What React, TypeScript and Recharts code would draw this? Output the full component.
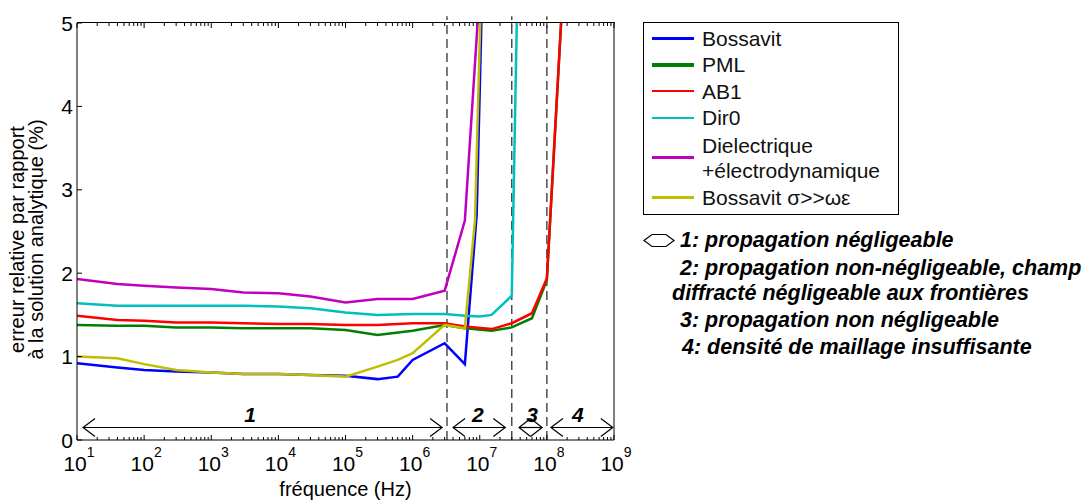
import React from "react";
import { LineChart, Line, XAxis, YAxis, ReferenceLine, ReferenceDot } from "recharts";

const FONT = '"Liberation Sans", Arial, Helvetica, sans-serif';

// axis ticks
const DECADES = [1e1, 1e2, 1e3, 1e4, 1e5, 1e6, 1e7, 1e8, 1e9];
const EXPONENTS = ["1", "2", "3", "4", "5", "6", "7", "8", "9"];
const MINOR_STEPS = [2, 3, 4, 5, 6, 7, 8, 9];
const X_TICKS = [
  ...DECADES,
  ...DECADES.slice(0, -1).flatMap((d) => MINOR_STEPS.map((m) => m * d)),
];
const Y_TICKS = [0, 1, 2, 3, 4, 5];

// series (frequency in Hz, relative error in %)
const bossavitFreq = [10, 40, 100, 300, 1e3, 3e3, 1e4, 3e4, 1e5, 3e5, 6e5, 1e6, 3e6, 6e6, 9e6, 1.5e7];
const bossavitErr = [0.92, 0.87, 0.84, 0.82, 0.81, 0.79, 0.79, 0.78, 0.77, 0.73, 0.76, 0.96, 1.16, 0.91, 2.7, 10];

const pmlFreq = [10, 40, 100, 300, 1e3, 3e3, 1e4, 3e4, 1e5, 3e5, 1e6, 3e6, 6e6, 1.5e7, 3e7, 6e7, 1e8, 2e8];
const pmlErr = [1.38, 1.37, 1.37, 1.35, 1.35, 1.34, 1.34, 1.34, 1.32, 1.26, 1.31, 1.38, 1.34, 1.31, 1.35, 1.46, 1.92, 6.3];

const ab1Freq = [10, 40, 100, 300, 1e3, 3e3, 1e4, 3e4, 1e5, 3e5, 1e6, 3e6, 6e6, 1.5e7, 3e7, 6e7, 1e8, 2e8];
const ab1Err = [1.49, 1.44, 1.43, 1.41, 1.41, 1.4, 1.39, 1.39, 1.38, 1.38, 1.4, 1.4, 1.36, 1.33, 1.4, 1.52, 1.94, 6.3];

const dir0Freq = [10, 40, 100, 300, 1e3, 3e3, 1e4, 3e4, 1e5, 3e5, 1e6, 3e6, 6e6, 1e7, 1.5e7, 3e7, 6e7];
const dir0Err = [1.64, 1.61, 1.61, 1.61, 1.61, 1.61, 1.6, 1.58, 1.53, 1.5, 1.51, 1.51, 1.49, 1.48, 1.5, 1.73, 15];

const dielFreq = [10, 40, 100, 300, 1e3, 3e3, 1e4, 3e4, 1e5, 3e5, 1e6, 3e6, 6e6, 1e7];
const dielErr = [1.93, 1.87, 1.85, 1.83, 1.81, 1.77, 1.76, 1.72, 1.65, 1.69, 1.69, 1.79, 2.63, 5.4];

const bossSigFreq = [10, 40, 100, 300, 1e3, 3e3, 1e4, 3e4, 1e5, 3e5, 6e5, 1e6, 3e6, 6e6, 8.5e6, 1.5e7];
const bossSigErr = [1.0, 0.98, 0.91, 0.84, 0.81, 0.79, 0.79, 0.78, 0.76, 0.88, 0.96, 1.04, 1.38, 1.34, 2.64, 10.2];

// regions
const BOUNDARIES = [3.25e6, 3e7, 1e8];
const ZONE_NAMES = ["1", "2", "3", "4"];
const ZONE_START = [12.3, 4e6, 3.85e7, 1.15e8];
const ZONE_END = [2.75e6, 2.4e7, 8.5e7, 9.6e8];
const ZONE_LABEL_AT = [3800, 9.4e6, 6e7, 2.9e8];
const ARROW_Y = 0.15;
const LABEL_Y = 0.21;

const NOTES = [
  "1: propagation négligeable",
  "2: propagation non-négligeable, champ",
  "diffracté négligeable aux frontières",
  "3: propagation non négligeable",
  "4: densité de maillage insuffisante",
];

const SERIES = [
  { name: "Bossavit", color: "#0000ff", freq: bossavitFreq, err: bossavitErr, legendW: 3.5 },
  { name: "PML", color: "#008000", freq: pmlFreq, err: pmlErr, legendW: 3.5 },
  { name: "AB1", color: "#ff0000", freq: ab1Freq, err: ab1Err, legendW: 2 },
  { name: "Dir0", color: "#00bfbf", freq: dir0Freq, err: dir0Err, legendW: 2.5 },
  { name: "Dielectrique\n+électrodynamique", color: "#bf00bf", freq: dielFreq, err: dielErr, legendW: 3.5 },
  { name: "Bossavit σ>>ωε", color: "#bfbf00", freq: bossSigFreq, err: bossSigErr, legendW: 3.5 },
];

const toPoints = (freq: number[], err: number[]) => freq.map((f, i) => ({ freq: f, err: err[i] }));

const BottomTick = ({ x, y, payload }: any) => {
  const i = DECADES.indexOf(payload.value);
  return (
    <g>
      <line x1={x} x2={x} y1={y} y2={y - (i >= 0 ? 5 : 3)} stroke="#000" />
      {i >= 0 && (
        <text x={x + 2} y={y + 31} textAnchor="middle" fontFamily={FONT} fontSize={21} fill="#000">
          10
          <tspan dy={-14} fontSize={14}>
            {EXPONENTS[i]}
          </tspan>
        </text>
      )}
    </g>
  );
};

const LeftTick = ({ x, y, payload }: any) => (
  <g>
    <line x1={x} x2={x + 5} y1={y} y2={y} stroke="#000" />
    <text x={x - 4} y={y + 7.5} textAnchor="end" fontFamily={FONT} fontSize={21} fill="#000">
      {payload.value}
    </text>
  </g>
);

const RightTick = ({ x, y }: any) => <line x1={x} x2={x - 5} y1={y} y2={y} stroke="#000" />;

const YLabel = ({ viewBox }: any) => {
  const cy = viewBox.y + viewBox.height / 2 + 8;
  return (
    <g fontFamily={FONT} fontSize={20} fill="#000">
      <text x={24} y={cy} textAnchor="middle" transform={`rotate(-90 24 ${cy})`}>
        erreur relative par rapport
      </text>
      <text x={43} y={cy} textAnchor="middle" transform={`rotate(-90 43 ${cy})`}>
        à la solution analytique (%)
      </text>
    </g>
  );
};

// inward ticks along the top of the box
const TopTickMark = ({ x1, y1, y2, major }: any) => {
  const top = Math.min(y1, y2);
  return <line x1={x1} x2={x1} y1={top} y2={top + (major ? 5 : 3)} stroke="#000" />;
};

const DoubleArrow = ({ x1, y1, x2, y2 }: any) => {
  const h = Math.min(12, Math.abs(x2 - x1) / 2);
  return (
    <g fill="none" stroke="#000" strokeWidth={1.2}>
      <line x1={x1} y1={y1} x2={x2} y2={y2} />
      <polyline points={`${x1 + h},${y1 - 9} ${x1},${y1} ${x1 + h},${y1 + 9}`} />
      <polyline points={`${x2 - h},${y2 - 9} ${x2},${y2} ${x2 - h},${y2 + 9}`} />
    </g>
  );
};

const Dashed = ({ x1, y1, x2, y2 }: any) => (
  <line x1={x1} y1={y1} x2={x2} y2={y2} stroke="#333" strokeWidth={1.3} strokeDasharray="9 5" />
);

export default function App() {
  return (
    <div style={{ position: "absolute", left: 0, top: 0, width: 1084, height: 502, background: "#fff", fontFamily: FONT }}>
      <LineChart width={640} height={502} margin={{ top: 23, right: 0, bottom: 0, left: 0 }}>
        <XAxis
          dataKey="freq"
          type="number"
          scale="log"
          domain={[10, 1e9]}
          allowDataOverflow
          ticks={X_TICKS}
          interval={0}
          height={62}
          tickSize={0}
          tickMargin={0}
          tick={<BottomTick />}
          axisLine={{ stroke: "#000" }}
          label={{ value: "fréquence (Hz)", position: "insideBottom", offset: 6, fontSize: 20, fill: "#000", fontFamily: FONT }}
        />
        <YAxis
          yAxisId={0}
          type="number"
          domain={[0, 5]}
          allowDataOverflow
          ticks={Y_TICKS}
          interval={0}
          width={77}
          tickSize={0}
          tickMargin={0}
          tick={<LeftTick />}
          axisLine={{ stroke: "#000" }}
          label={{ content: YLabel }}
        />
        <YAxis
          yAxisId="right"
          orientation="right"
          type="number"
          domain={[0, 5]}
          ticks={Y_TICKS}
          interval={0}
          width={26}
          tickSize={0}
          tickMargin={0}
          tick={<RightTick />}
          axisLine={{ stroke: "#000" }}
        />
        {X_TICKS.map((t) => (
          <ReferenceLine key={"tt" + t} x={t} ifOverflow="visible" shape={<TopTickMark major={DECADES.includes(t)} />} />
        ))}
        {BOUNDARIES.map((b) => (
          <ReferenceLine
            key={b}
            segment={[{ x: b, y: 0 }, { x: b, y: 5.08 }]}
            ifOverflow="visible"
            shape={<Dashed />}
          />
        ))}
        {ZONE_NAMES.map((z, i) => (
          <ReferenceLine
            key={"arrow" + z}
            segment={[{ x: ZONE_START[i], y: ARROW_Y }, { x: ZONE_END[i], y: ARROW_Y }]}
            ifOverflow="visible"
            shape={<DoubleArrow />}
          />
        ))}
        {ZONE_NAMES.map((z, i) => (
          <ReferenceDot
            key={"label" + z}
            x={ZONE_LABEL_AT[i]}
            y={LABEL_Y}
            r={1}
            ifOverflow="visible"
            shape={(p: any) => (
              <text x={p.cx} y={p.cy} textAnchor="middle" fontFamily={FONT} fontSize={21} fontWeight="bold" fontStyle="italic" fill="#000">
                {z}
              </text>
            )}
          />
        ))}
        {SERIES.map((s) => (
          <Line
            key={s.name}
            data={toPoints(s.freq, s.err)}
            dataKey="err"
            type="linear"
            stroke={s.color}
            strokeWidth={2.5}
            dot={false}
            isAnimationActive={false}
          />
        ))}
      </LineChart>

      {/* top edge of the plot box */}
      <div style={{ position: "absolute", left: 77, top: 22, width: 538, height: 0, borderTop: "1.5px solid #000", zIndex: 2 }} />

      <div
        style={{
          position: "absolute",
          left: 643,
          top: 22,
          width: 254,
          height: 189,
          border: "1px solid #000",
          paddingTop: 2,
          boxSizing: "content-box",
        }}
      >
        {SERIES.map((s) => {
          const lines = s.name.split("\n");
          return (
            <div key={s.name} style={{ display: "flex", alignItems: "center", height: 26.5 * lines.length }}>
              <div style={{ width: 42, height: s.legendW, background: s.color, marginLeft: 8, marginRight: 8 }} />
              <div style={{ fontSize: 21, lineHeight: "25px", whiteSpace: "pre", color: "#111" }}>{s.name}</div>
            </div>
          );
        })}
      </div>

      <svg style={{ position: "absolute", left: 643, top: 233 }} width={32} height={16}>
        <polygon points="1,7.5 9,1.5 23,1.5 31,7.5 23,13.5 9,13.5" fill="none" stroke="#000" strokeWidth={1.2} />
      </svg>
      {NOTES.map((n, i) => (
        <div
          key={n}
          style={{
            position: "absolute",
            left: [680, 680, 672, 680, 682][i],
            top: [227, 255, 280, 307, 334][i],
            fontSize: 21.5,
            lineHeight: "26px",
            fontWeight: "bold",
            fontStyle: "italic",
            whiteSpace: "nowrap",
            color: "#000",
          }}
        >
          {n}
        </div>
      ))}
    </div>
  );
}
